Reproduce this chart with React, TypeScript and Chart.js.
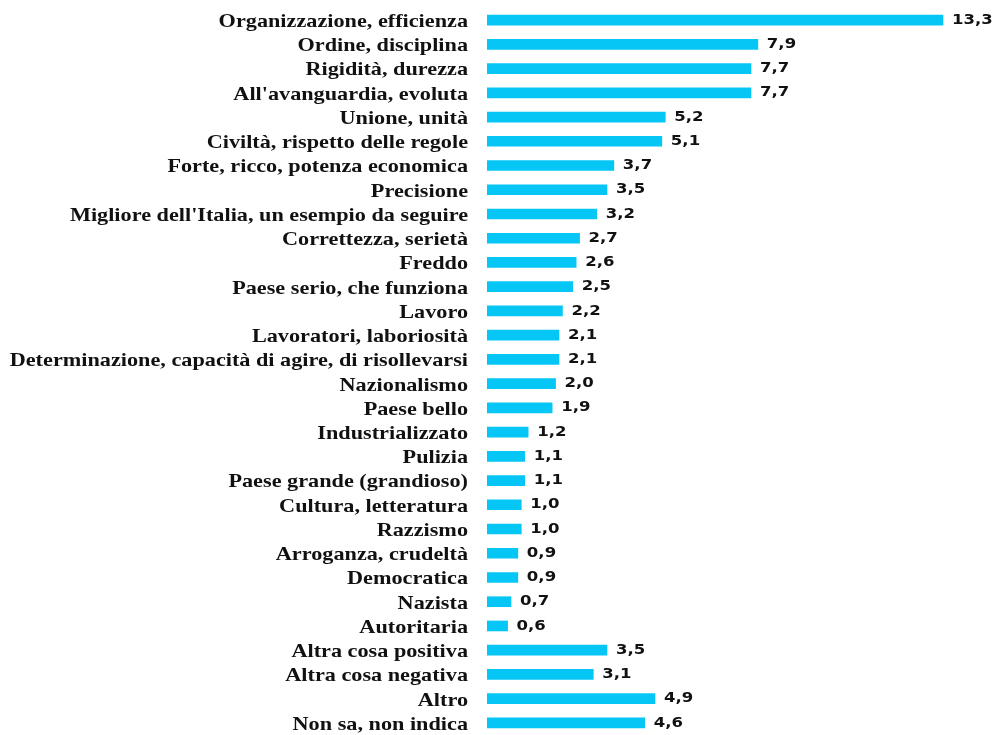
import React, { useEffect, useRef } from "react";
import { Chart, registerables } from "chart.js";

Chart.register(...registerables);

const categories: string[] = [
  "Organizzazione, efficienza",
  "Ordine, disciplina",
  "Rigidità, durezza",
  "All'avanguardia, evoluta",
  "Unione, unità",
  "Civiltà, rispetto delle regole",
  "Forte, ricco, potenza economica",
  "Precisione",
  "Migliore dell'Italia, un esempio da seguire",
  "Correttezza, serietà",
  "Freddo",
  "Paese serio, che funziona",
  "Lavoro",
  "Lavoratori, laboriosità",
  "Determinazione, capacità di agire, di risollevarsi",
  "Nazionalismo",
  "Paese bello",
  "Industrializzato",
  "Pulizia",
  "Paese grande (grandioso)",
  "Cultura, letteratura",
  "Razzismo",
  "Arroganza, crudeltà",
  "Democratica",
  "Nazista",
  "Autoritaria",
  "Altra cosa positiva",
  "Altra cosa negativa",
  "Altro",
  "Non sa, non indica",
];

const values: number[] = [
  13.3, 7.9, 7.7, 7.7, 5.2, 5.1, 3.7, 3.5, 3.2, 2.7, 2.6, 2.5, 2.2, 2.1, 2.1,
  2.0, 1.9, 1.2, 1.1, 1.1, 1.0, 1.0, 0.9, 0.9, 0.7, 0.6, 3.5, 3.1, 4.9, 4.6,
];

const BAR_COLOR = "#05c6f5";
const LABEL_STRETCH = 1.17;
const VALUE_STRETCH = 1.18;

const textPlugin = {
  id: "textPlugin",
  afterDatasetsDraw(chart: any) {
    const ctx = chart.ctx;
    const meta = chart.getDatasetMeta(0);
    const yScale = chart.scales.y;
    ctx.save();
    ctx.fillStyle = "#111111";
    ctx.textBaseline = "middle";
    // category labels (right-aligned beside the axis)
    ctx.font = "bold 19px 'Liberation Serif', 'Times New Roman', serif";
    ctx.textAlign = "right";
    categories.forEach((c: string, i: number) => {
      const y = yScale.getPixelForValue(i);
      ctx.save();
      ctx.translate(yScale.right - 19, y + 2);
      ctx.scale(LABEL_STRETCH, 1);
      ctx.fillText(c, 0, 0);
      ctx.restore();
    });
    // value labels
    ctx.font = "bold 14px 'DejaVu Sans', Verdana, sans-serif";
    ctx.textAlign = "left";
    meta.data.forEach((bar: any, i: number) => {
      const txt = values[i].toFixed(1).replace(".", ",");
      ctx.save();
      ctx.translate(bar.x + 9, bar.y);
      ctx.scale(VALUE_STRETCH, 1);
      ctx.fillText(txt, 0, 0);
      ctx.restore();
    });
    ctx.restore();
  },
};

export default function App() {
  const ref = useRef<HTMLCanvasElement | null>(null);
  useEffect(() => {
    if (!ref.current) return;
    const chart = new Chart(ref.current, {
      type: "bar",
      data: {
        labels: categories,
        datasets: [
          {
            data: values,
            backgroundColor: BAR_COLOR,
            borderWidth: 0,
            barThickness: 10,
          },
        ],
      },
      options: {
        indexAxis: "y",
        animation: false,
        responsive: true,
        maintainAspectRatio: false,
        layout: { padding: { top: 8, bottom: 0, right: 32, left: 0 } },
        plugins: {
          legend: { display: false },
          tooltip: { enabled: false },
        },
        scales: {
          x: {
            display: false,
            min: 0,
            max: 14,
          },
          y: {
            afterFit(scale: any) {
              scale.width = 487;
              scale.paddingTop = 0;
              scale.paddingBottom = 0;
            },
            grid: { display: false, drawTicks: false },
            border: { display: false },
            ticks: { display: false, autoSkip: false },
          },
        },
      },
      plugins: [textPlugin],
    });
    return () => chart.destroy();
  }, []);
  return (
    <div
      style={{
        position: "fixed",
        left: 0,
        top: 0,
        width: 999,
        height: 735,
        background: "#ffffff",
      }}
    >
      <canvas ref={ref} />
    </div>
  );
}
